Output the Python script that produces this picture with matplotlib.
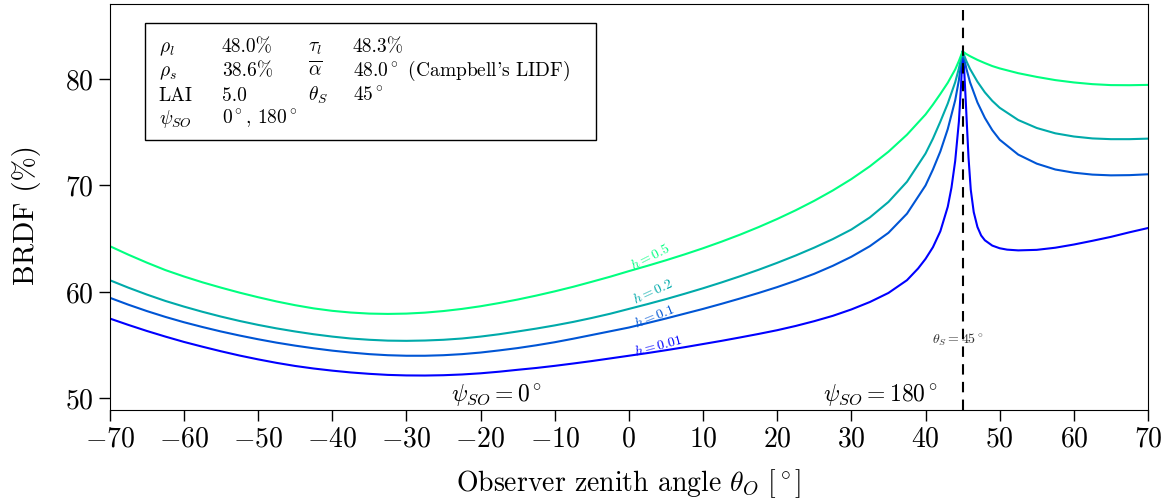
import numpy as np
import matplotlib.pyplot as plt
from matplotlib.patches import Rectangle


plt.rcParams['font.family'] = 'serif'
plt.rcParams['font.serif'] = ['cmr10']
plt.rcParams['mathtext.fontset'] = 'cm'
plt.rcParams['axes.formatter.use_mathtext'] = True
plt.rcParams['axes.unicode_minus'] = True


# hotspot parameters
h_values = [0.01, 0.1, 0.2, 0.5]
theta_S = 45

# observer zenith angle (deg) and BRDF (%) for each h
theta_h001 = [-70, -67.5, -65, -62.5, -60, -57.5, -55, -52.5, -50, -47.5, -45, -42.5, -40, -37.5, -35,
              -32.5, -30, -27.5, -25, -22.5, -20, -17.5, -15, -12.5, -10, -7.5, -5, -2.5, 0, 2.5, 5,
              7.5, 10, 12.5, 15, 17.5, 20, 22.5, 25, 27.5, 30, 32.5, 35, 37.5, 39, 40, 41, 42, 43, 43.5,
              44, 44.5, 44.8, 45, 45.2, 45.4, 45.6, 45.8, 46.1, 46.5, 47, 47.5, 48, 49, 50, 51, 52.5,
              55, 57.5, 60, 62.5, 65, 67.5, 70]
brdf_h001 = [57.5, 56.9, 56.33, 55.8, 55.3, 54.85, 54.42, 54.02, 53.66, 53.33, 53.04, 52.8, 52.6, 52.43,
             52.3, 52.2, 52.15, 52.14, 52.17, 52.24, 52.35, 52.5, 52.68, 52.85, 53.05, 53.27, 53.5, 53.75,
             54.0, 54.25, 54.52, 54.8, 55.1, 55.4, 55.72, 56.05, 56.4, 56.8, 57.25, 57.75, 58.35, 59.05,
             59.9, 61.1, 62.2, 63.1, 64.2, 65.7, 68.0, 69.8, 72.3, 76.0, 79.5, 82.6, 81.0, 78.3, 75.4,
             72.6, 69.6, 67.5, 66.1, 65.3, 64.85, 64.35, 64.1, 63.97, 63.9, 63.95, 64.15, 64.45, 64.8,
             65.17, 65.6, 66.0]

theta_grid = [-70, -67.5, -65, -62.5, -60, -57.5, -55, -52.5, -50, -47.5, -45, -42.5, -40, -37.5, -35,
              -32.5, -30, -27.5, -25, -22.5, -20, -17.5, -15, -12.5, -10, -7.5, -5, -2.5, 0, 2.5, 5,
              7.5, 10, 12.5, 15, 17.5, 20, 22.5, 25, 27.5, 30, 32.5, 35, 37.5, 40, 41, 42, 43, 44, 44.5,
              45, 45.5, 46, 47, 48, 49, 50, 52.5, 55, 57.5, 60, 62.5, 65, 67.5, 70]
brdf_h01 = [59.45, 58.8, 58.2, 57.65, 57.15, 56.7, 56.28, 55.9, 55.55, 55.23, 54.95, 54.7, 54.48, 54.3,
            54.15, 54.05, 54.0, 54.0, 54.05, 54.15, 54.3, 54.5, 54.72, 54.98, 55.27, 55.6, 55.95, 56.3,
            56.65, 57.07, 57.5, 57.95, 58.4, 58.88, 59.38, 59.9, 60.45, 61.05, 61.7, 62.45, 63.3, 64.3,
            65.55, 67.35, 70.0, 71.5, 73.2, 75.3, 78.0, 79.9,
            82.6, 81.0, 79.7, 77.8, 76.35, 75.2, 74.3, 72.9, 72.05, 71.5, 71.2, 71.02, 70.95, 70.97, 71.05]
brdf_h02 = [61.1, 60.4, 59.75, 59.15, 58.62, 58.13, 57.68, 57.27, 56.9, 56.57, 56.28, 56.02, 55.8, 55.62,
            55.5, 55.42, 55.4, 55.43, 55.5, 55.62, 55.8, 56.02, 56.28, 56.55, 56.85, 57.18, 57.55, 57.95,
            58.4, 58.85, 59.32, 59.82, 60.34, 60.89, 61.47, 62.08, 62.73, 63.42, 64.16, 64.96, 65.86,
            67.0, 68.45, 70.35, 73.0, 74.4, 76.0, 77.7, 79.7, 81.0,
            82.6, 81.7, 80.95, 79.75, 78.75, 77.95, 77.3, 76.15, 75.4, 74.9, 74.6, 74.42, 74.35, 74.35, 74.4]
brdf_h05 = [64.3, 63.5, 62.75, 62.05, 61.45, 60.9, 60.4, 59.93, 59.5, 59.1, 58.75, 58.45, 58.22, 58.06,
            57.96, 57.93, 57.96, 58.05, 58.2, 58.4, 58.65, 58.95, 59.28, 59.65, 60.05, 60.48, 60.95, 61.43,
            61.95, 62.45, 62.97, 63.52, 64.1, 64.72, 65.38, 66.09, 66.85, 67.67, 68.56, 69.53, 70.6,
            71.8, 73.17, 74.77, 76.67, 77.6, 78.6, 79.65, 80.9, 81.7,
            82.6, 82.35, 82.15, 81.8, 81.5, 81.22, 81.0, 80.55, 80.2, 79.9, 79.68, 79.52, 79.43, 79.42, 79.45]

theta_list = [theta_h001, theta_grid, theta_grid, theta_grid]
brdf_list = [brdf_h001, brdf_h01, brdf_h02, brdf_h05]

# curve label placement (deg, %, rotation)
label_x = [3.9, 3.4, 3.2, 2.9]
label_y = [54.9, 57.7, 60.0, 63.3]
label_rot = [15, 22, 25, 27]

# canopy parameters shown in the box
box_col1 = [r'$\rho_l$', r'$\rho_s$', 'LAI', r'$\psi_{SO}$']
box_col2 = ['48.0%', '38.6%', '5.0', r'$0^\circ$, $180^\circ$']
box_col3 = [r'$\tau_l$', r'$\overline{\alpha}$', r'$\theta_S$']
box_col4 = ['48.3%', r"$48.0^\circ$ (Campbell's LIDF)", r'$45^\circ$']


fig = plt.figure(figsize=(11.76, 5.01), dpi=100)
ax = fig.add_axes([0.0933, 0.1816, 0.8829, 0.8104])

colors = plt.cm.winter(np.linspace(0, 1, len(h_values)))

for i in range(len(h_values)):
    ax.plot(theta_list[i], brdf_list[i], color=colors[i], lw=1.5)
    ax.text(label_x[i], label_y[i], r'$h = {}$'.format(h_values[i]), color=colors[i],
            fontsize=10, rotation=label_rot[i], rotation_mode='anchor', ha='center', va='center')

ax.axvline(theta_S, color='k', ls=(0, (5, 3.5)), lw=1.5)
ax.text(44.3, 55.5, r'$\theta_S = 45^\circ$', fontsize=10, color='0.2', ha='center', va='center')

ax.text(-17.8, 50.3, r'$\psi_{SO} = 0^\circ$', fontsize=17, ha='center', va='center')
ax.text(33.9, 50.3, r'$\psi_{SO} = 180^\circ$', fontsize=17, ha='center', va='center')

ax.set_xlim(-70, 70)
ax.set_ylim(48.9, 87.05)
ax.set_xticks(np.arange(-70, 71, 10))
ax.set_yticks([50, 60, 70, 80])
ax.tick_params(direction='out', length=8, width=1, labelsize=20, top=False, right=False)
ax.set_xlabel(r'Observer zenith angle $\theta_O\ [^\circ]$', fontsize=20, labelpad=11)
ax.set_ylabel('BRDF (%)', fontsize=21)
ax.yaxis.set_label_coords(-0.066, 0.48)

# parameter box
ax.add_patch(Rectangle((0.034, 0.665), 0.434, 0.288, transform=ax.transAxes,
                       fill=False, ec='k', lw=1))
row_y = [0.882, 0.822, 0.762, 0.705]
for r in range(4):
    ax.text(0.047, row_y[r], box_col1[r], transform=ax.transAxes, fontsize=14, va='baseline')
    ax.text(0.108, row_y[r], box_col2[r], transform=ax.transAxes, fontsize=14, va='baseline')
for r in range(3):
    ax.text(0.191, row_y[r], box_col3[r], transform=ax.transAxes, fontsize=14, va='baseline')
    ax.text(0.234, row_y[r], box_col4[r], transform=ax.transAxes, fontsize=14, va='baseline')

plt.savefig('out.png', dpi=100)
